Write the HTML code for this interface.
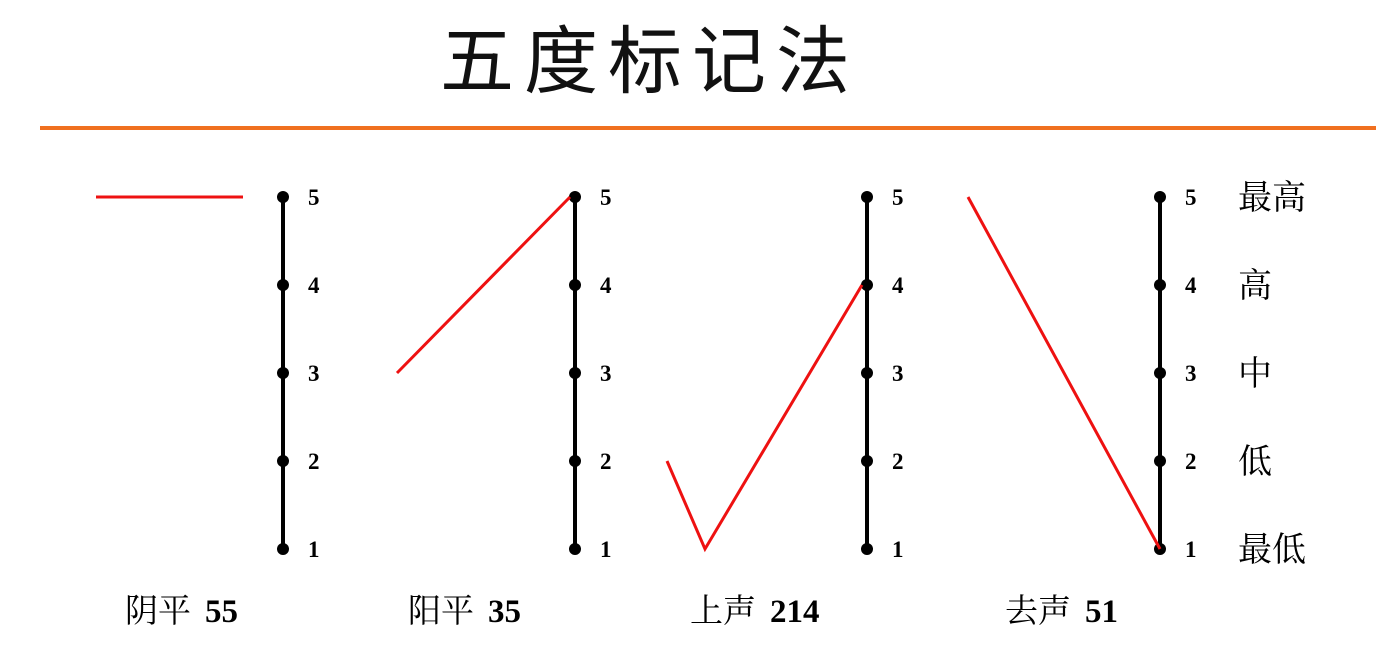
<!DOCTYPE html>
<html><head><meta charset="utf-8">
<style>
body{margin:0;width:1376px;height:652px;background:#fff;overflow:hidden;font-family:"Liberation Serif","Noto Serif CJK SC",serif;}
#title{position:absolute;left:440px;top:18px;font-size:74px;font-family:"Liberation Sans","Noto Sans CJK SC",sans-serif;letter-spacing:10px;color:#111;line-height:1.2;}
#rule{position:absolute;left:40px;top:126px;width:1336px;height:4px;background:#f07020;}
</style></head><body>
<div id="title">五度标记法</div>
<div id="rule"></div>
<svg id="chart" width="1376" height="652" style="position:absolute;left:0;top:0"></svg>
<script>
const toneNames = ["阴平","阳平","上声","去声"];
const toneValues = ["55","35","214","51"];
const toneLevels = [[5,5],[3,5],[2,1,4],[5,1]];
const levelTicks = [1,2,3,4,5];
const levelNames = ["最低","低","中","高","最高"];
// layout
const axisX = [283,575,867,1160];
const toneXs = [[96,243],[397,570],[667,705,862],[968,1160]];
const nameX = [125,408,690,1005];
function yOf(l){return 549-(l-1)*88;}
const svg=document.getElementById('chart');
const NS='http://www.w3.org/2000/svg';
function mk(t,a,p){const e=document.createElementNS(NS,t);for(const k in a)e.setAttribute(k,a[k]);(p||svg).appendChild(e);return e;}
axisX.forEach((x,i)=>{
  const ln=mk('line',{x1:x,x2:x,y1:yOf(1),y2:yOf(5),stroke:'#000','stroke-width':4});
  
  
  levelTicks.forEach(l=>{
    const c=mk('circle',{cx:x,cy:yOf(l),r:6,fill:'#000'});
    
    
    const t=mk('text',{x:x+25,y:yOf(l)+8,'font-size':23,'font-weight':'bold',fill:'#000'});
    t.textContent=l;
    
    
  });
  const pts=toneLevels[i].map((l,j)=>toneXs[i][j]+','+yOf(l)).join(' ');
  const pl=mk('polyline',{points:pts,fill:'none',stroke:'#ee1111','stroke-width':3});
  
  
  const n=mk('text',{x:nameX[i],y:622,'font-size':33,fill:'#000'});
  
  
  const s1=mk('tspan',{},n);s1.textContent=toneNames[i];
  const s2=mk('tspan',{'font-weight':'bold','font-size':33,dx:14},n);s2.textContent=toneValues[i];
});
levelTicks.forEach((l,i)=>{
  const t=mk('text',{x:1238,y:yOf(l)+12,'font-size':34,fill:'#000'});
  t.textContent=levelNames[i];
  
  
});
</script>
</body></html>
